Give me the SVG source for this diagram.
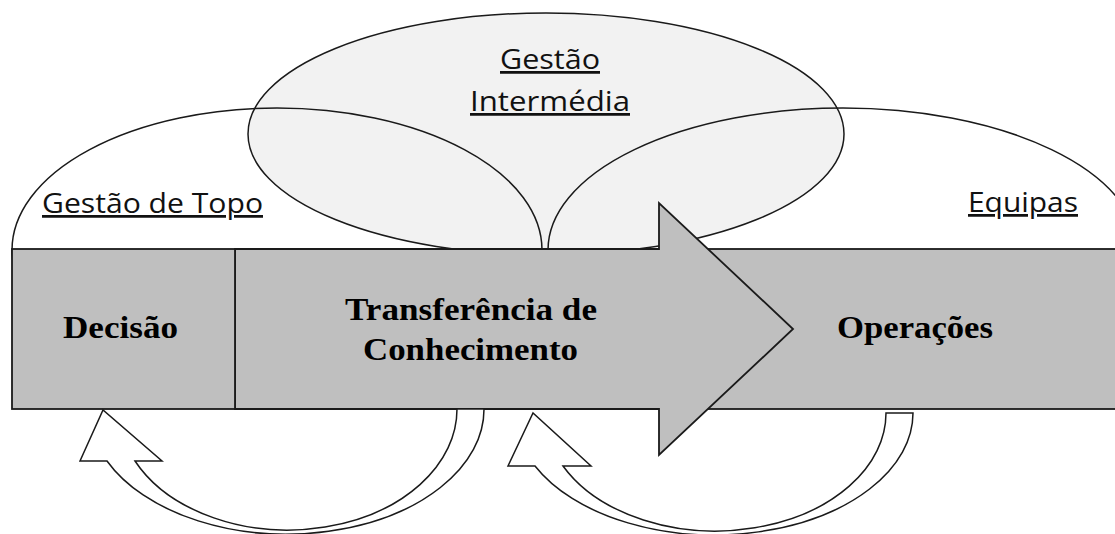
<svg xmlns="http://www.w3.org/2000/svg" width="1115" height="534" viewBox="0 0 1115 534">
  <style>
    .outline { stroke: #1a1a1a; stroke-width: 1.5; }
    .bubble-mid { fill: #f2f2f2; }
    .bubble-side { fill: none; }
    .block { fill: #bfbfbf; stroke: #1a1a1a; stroke-width: 1.8; }
    .loop { fill: #ffffff; stroke: #1a1a1a; stroke-width: 1.5; stroke-linejoin: miter; }
    .label { font-family: "Open Sans", "Liberation Sans", sans-serif; font-size: 27.5px; fill: #111111; text-decoration: underline; }
    .stage { font-family: "Liberation Serif", "Times New Roman", serif; font-size: 32px; font-weight: bold; fill: #000000; }
  </style>

  <!-- management levels as overlapping bubbles -->
  <g id="gestao-intermedia">
    <ellipse class="outline bubble-mid" cx="546" cy="134" rx="298" ry="121"/>
    <text class="label" x="500" y="69" textLength="100" lengthAdjust="spacingAndGlyphs">Gestão</text>
    <text class="label" x="470" y="111" textLength="160" lengthAdjust="spacingAndGlyphs">Intermédia</text>
  </g>
  <g id="gestao-topo">
    <ellipse class="outline bubble-side" cx="277" cy="250" rx="265" ry="142"/>
    <text class="label" x="42" y="213" textLength="221" lengthAdjust="spacingAndGlyphs">Gestão de Topo</text>
  </g>
  <g id="equipas">
    <ellipse class="outline bubble-side" cx="843" cy="250" rx="295" ry="142"/>
    <text class="label" x="968" y="212" textLength="110" lengthAdjust="spacingAndGlyphs">Equipas</text>
  </g>

  <!-- process band -->
  <g id="operacoes">
    <rect class="block" x="700" y="249" width="420" height="160"/>
    <text class="stage" x="837" y="338" textLength="156" lengthAdjust="spacingAndGlyphs">Operações</text>
  </g>
  <g id="transferencia">
    <polygon class="block" points="235,249 659,249 659,203 793,329 659,455 659,409 235,409"/>
    <text class="stage" x="345" y="320" textLength="252" lengthAdjust="spacingAndGlyphs">Transferência de</text>
    <text class="stage" x="363" y="360" textLength="215" lengthAdjust="spacingAndGlyphs">Conhecimento</text>
  </g>
  <g id="decisao">
    <rect class="block" x="12" y="249" width="223" height="160"/>
    <text class="stage" x="63" y="338" textLength="115" lengthAdjust="spacingAndGlyphs">Decisão</text>
  </g>

  <!-- feedback loops -->
  <g id="connectors">
    <path class="loop" d="M457,409 L484,409 A197.4,125 0 0 1 107,461 L80,461 L103,410 L162,461 L135,461 A169.2,121 0 0 0 457,409 Z"/>
    <path class="loop" d="M886,413 L913,413 A198.9,122 0 0 1 535,466 L508,466 L533,413 L591,466 L563,466 A170.6,118 0 0 0 886,413 Z"/>
  </g>
</svg>
